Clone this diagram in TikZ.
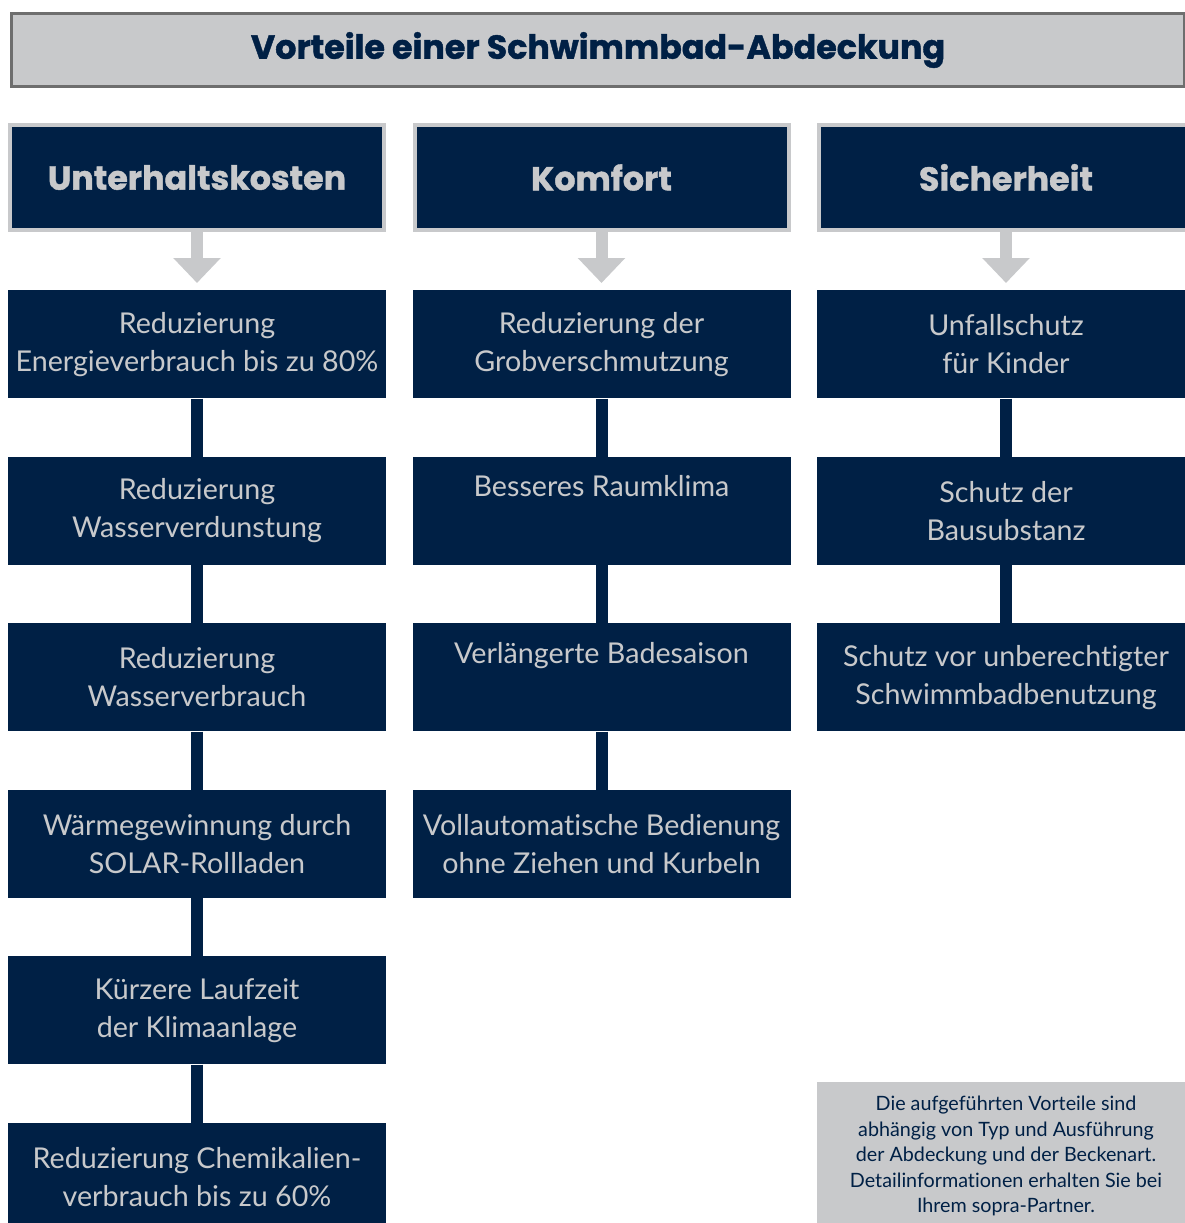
\documentclass[tikz,border=0pt]{standalone}
\usepackage{fontspec}
\setmainfont{Lato}[Ligatures=NoCommon]
\newfontfamily\headfont{Poppins}[BoldFeatures={FakeBold=1.2}]
\usetikzlibrary{positioning,arrows.meta}
\definecolor{navy}{HTML}{002045}
\definecolor{lgray}{HTML}{C8C9CB}
\definecolor{dgray}{HTML}{6E6E6E}

\begin{document}
\begin{tikzpicture}[x=0.75pt,y=-0.75pt,node distance=43.5pt]
\tikzstyle{item}=[
	rectangle,
	fill=navy, text=lgray,
	align=center, inner sep=0pt,
	minimum width=283.5pt, minimum height=81pt,
	font=\fontsize{21.5}{28.5}\selectfont ]
\tikzstyle{head}=[item,
	draw=lgray, line width=3pt,
	minimum width=280.5pt, minimum height=78.75pt,
	font=\headfont\bfseries\fontsize{25}{30}\selectfont ]
\tikzstyle{title}=[rectangle,
	fill=lgray, draw=dgray, line width=2.25pt, text=navy,
	minimum width=879.75pt, minimum height=54.75pt,
	font=\headfont\bfseries\fontsize{25}{30}\selectfont ]
\tikzstyle{note}=[rectangle,
	fill=lgray, text=navy, align=center, inner sep=0pt,
	minimum width=283.5pt, minimum height=111pt,
	font=\fontsize{14.8}{19.1}\selectfont ]
\tikzstyle{link}=[draw=navy, line width=9pt]
\tikzstyle{down}=[draw=lgray, line width=9pt,
	-{Triangle[width=34.5pt,length=18.75pt]}, shorten >=5.25pt]
\useasboundingbox (0,0) rectangle (1184,1223);

\node[title] (top) at (598,50) {Vorteile einer Schwimmbad-Abdeckung};

\node[head] (kost) at (197,177.5) {Unterhaltskosten};
\node[head] (komf) at (601.5,177.5) {Komfort};
\node[head] (sich) at (1006,177.5) {Sicherheit};

\node[item, below=of kost] (kost1) {Reduzierung\\Energieverbrauch bis zu 80\%};
\node[item, below=of kost1] (kost2) {Reduzierung\\Wasserverdunstung};
\node[item, below=of kost2] (kost3) {Reduzierung\\Wasserverbrauch};
\node[item, below=of kost3] (kost4) {Wärmegewinnung durch\\SOLAR-Rollladen};
\node[item, below=of kost4] (kost5) {Kürzere Laufzeit\\der Klimaanlage};
\node[item, below=of kost5] (kost6) {Reduzierung Chemikalien-\\verbrauch bis zu 60\%};

\node[item, below=of komf] (komf1) {Reduzierung der\\Grobverschmutzung};
\node[item, below=of komf1] (komf2) {Besseres Raumklima\\\strut};
\node[item, below=of komf2] (komf3) {Verlängerte Badesaison\\\strut};
\node[item, below=of komf3] (komf4) {Vollautomatische Bedienung\\ohne Ziehen und Kurbeln};

\node[item, below=of sich] (sich1) {Unfallschutz\\für Kinder};
\node[item, below=of sich1] (sich2) {Schutz der\\Bausubstanz};
\node[item, below=of sich2] (sich3) {Schutz vor unberechtigter\\Schwimmbadbenutzung};

\node[note, anchor=north] (hint) at (1006,1082) {Die aufgeführten Vorteile sind\\abhängig von Typ und Ausführung\\der Abdeckung und der Beckenart.\\Detailinformationen erhalten Sie bei\\Ihrem sopra-Partner.};

\draw[down] (kost) -- (kost1);
\draw[down] (komf) -- (komf1);
\draw[down] (sich) -- (sich1);

\draw[link] (kost1) -- (kost2);
\draw[link] (kost2) -- (kost3);
\draw[link] (kost3) -- (kost4);
\draw[link] (kost4) -- (kost5);
\draw[link] (kost5) -- (kost6);
\draw[link] (komf1) -- (komf2);
\draw[link] (komf2) -- (komf3);
\draw[link] (komf3) -- (komf4);
\draw[link] (sich1) -- (sich2);
\draw[link] (sich2) -- (sich3);
\end{tikzpicture}
\end{document}
